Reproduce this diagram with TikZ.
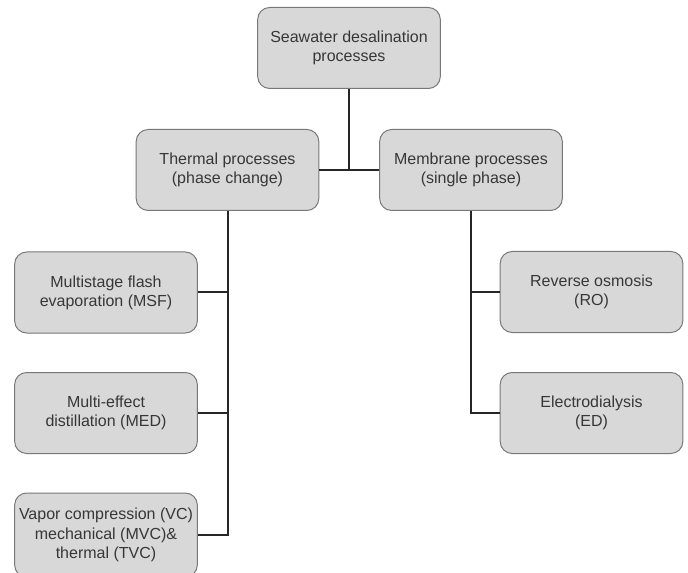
\documentclass[tikz,border=0pt]{standalone}
\usepackage{fontspec}
\setmainfont{Liberation Sans}
\usepackage{xcolor}
\usepackage{tikz}

\definecolor{boxfill}{RGB}{216,216,216}
\definecolor{boxline}{RGB}{120,120,120}
\definecolor{boxtext}{RGB}{55,55,55}

\tikzset{
    procbox/.style={draw=boxline, fill=boxfill, line width=0.75pt, rounded corners=9pt,
        minimum width=137pt, minimum height=60.75pt, align=center, inner sep=1pt,
        text=boxtext, font=\fontsize{12}{14.4}\selectfont},
    link/.style={line width=1.5pt, color=black!85}
}

\begin{document}
\begin{tikzpicture}[x=0.75pt,y=0.75pt,yscale=-1,xscale=1]
        \useasboundingbox (0,0) rectangle (688,573);

        \node[procbox] (sea) at (349,48) {Seawater desalination\\processes};
        \node[procbox] (thermal) at (227.5,170) {Thermal processes\\(phase change)};
        \node[procbox] (membrane) at (471,170) {Membrane processes\\(single phase)};

        \node[procbox] (msf) at (106,292.5) {Multistage flash\\evaporation (MSF)};
        \node[procbox] (med) at (106,413) {Multi-effect\\distillation (MED)};
        \node[procbox, minimum height=63pt] (vc) at (106,535) {Vapor compression (VC)\\mechanical (MVC)\&\\thermal (TVC)};

        \node[procbox] (ro) at (591.5,292) {Reverse osmosis\\(RO)};
        \node[procbox] (ed) at (591.5,413) {Electrodialysis\\(ED)};

        % connectors
        \draw[link] (sea.south) -- (sea.south |- thermal.east);
        \draw[link] (thermal.east) -- (membrane.west);

        \draw[link] (thermal.south) |- (vc.east);
        \draw[link] (msf.east) -- (msf.east -| thermal.south);
        \draw[link] (med.east) -- (med.east -| thermal.south);

        \draw[link] (membrane.south) |- (ed.west);
        \draw[link] (ro.west) -- (ro.west -| membrane.south);
\end{tikzpicture}
\end{document}
